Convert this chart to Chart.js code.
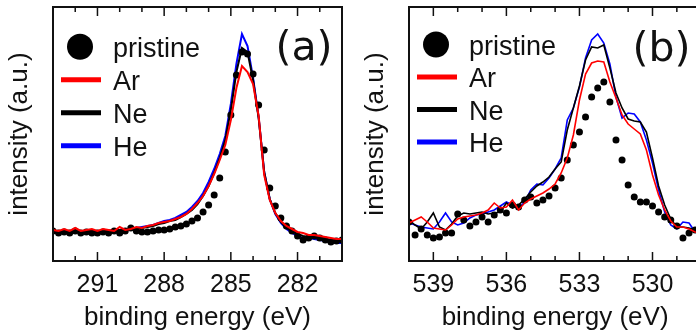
<!DOCTYPE html>
<html>
<head>
<meta charset="utf-8">
<script src="https://cdn.jsdelivr.net/npm/chart.js@4.4.1/dist/chart.umd.min.js"></script>
<style>
    html, body { margin: 0; padding: 0; overflow: hidden; background: #fff; }
    body { width: 696px; height: 334px; position: relative; }
    canvas { position: absolute; top: 0; }
    #panelA { left: 0; }
    #panelB { left: 356px; }
</style>
</head>
<body>
<canvas id="panelA" width="346" height="334"></canvas>
<canvas id="panelB" width="350" height="334"></canvas>
<script>
// panel (a): energi ikat C 1s (eV)
const energiA = [293, 292.75, 292.5, 292.25, 292, 291.75, 291.5, 291.25, 291, 290.75, 290.5, 290.25, 290,
    289.75, 289.5, 289.25, 289, 288.75, 288.5, 288.25, 288, 287.75, 287.5, 287.25, 287,
    286.75, 286.5, 286.25, 286, 285.75, 285.5, 285.25, 285, 284.75, 284.5, 284.25, 284,
    283.75, 283.5, 283.25, 283, 282.75, 282.5, 282.25, 282, 281.75, 281.5, 281.25, 281,
    280.75, 280.5, 280.25, 280];
const pristineA = [30, 28, 29, 28, 30, 28, 29, 28, 28, 29, 28, 30, 28, 30, 33, 30, 29, 29, 30, 31, 31, 32, 34, 35, 37,
    40, 43, 49, 56, 66, 83, 109, 146, 186, 209, 207, 187, 156, 111, 73, 55, 43, 35, 30, 25, 21, 23, 25, 23, 21, 19, 20, 21];
const arA = [31, 30, 32, 30, 33, 30, 31, 32, 30, 32, 31, 30, 34, 31, 32, 34, 33, 35, 36, 38, 39, 40, 42, 44, 47,
    52, 58, 65, 75, 87, 101, 116, 141, 173, 195, 189, 177, 145, 86, 61, 48, 40, 35, 32, 29, 28, 26, 26, 25, 24, 23, 22, 22];
const neA = [29, 29, 30, 29, 30, 29, 30, 30, 29, 30, 30, 31, 31, 31, 32, 32, 33, 34, 35, 37, 38, 40, 41, 44, 47,
    51, 57, 65, 75, 88, 103, 121, 151, 189, 213, 209, 181, 143, 89, 62, 48, 39, 33, 30, 27, 25, 24, 24, 23, 22, 21, 20, 20];
const heA = [28, 28, 29, 28, 29, 29, 29, 30, 29, 30, 30, 31, 31, 32, 32, 33, 34, 35, 36, 38, 40, 41, 43, 46, 49,
    54, 60, 68, 79, 92, 107, 125, 157, 197, 227, 215, 183, 144, 89, 62, 47, 38, 32, 28, 25, 23, 23, 22, 21, 20, 19, 18, 18];
const tickA = [291, 288, 285, 282];
const tickMinorA = [292, 290, 289, 287, 286, 284, 283, 281];

// panel (b): energi ikat O 1s (eV)
const energiB = [540, 539.75, 539.5, 539.25, 539, 538.75, 538.5, 538.25, 538, 537.75, 537.5, 537.25,
    537, 536.75, 536.5, 536.25, 536, 535.75, 535.5, 535.25, 535, 534.75, 534.5, 534.25,
    534, 533.75, 533.5, 533.25, 533, 532.75, 532.5, 532.25, 532, 531.75, 531.5, 531.25,
    531, 530.75, 530.5, 530.25, 530, 529.75, 529.5, 529.25, 529, 528.75, 528.5, 528.25, 528];
const pristineB = [39, 26, 32, 26, 23, 24, 28, 28, 47, 41, 35, 39, 44, 39, 46, 51, 48, 56, 54, 61, 64, 58, 61, 65,
    73, 83, 101, 116, 129, 144, 164, 173, 179, 159, 121, 101, 76, 64, 59, 59, 55, 49, 44, 41, 35, 23, 28, 31, 33];
const arB = [38, 41, 44, 39, 33, 32, 31, 36, 42, 44, 45, 46, 48, 51, 58, 53, 54, 61, 51, 58, 62, 65, 68, 72,
    77, 88, 103, 126, 161, 187, 198, 200, 199, 179, 163, 146, 137, 132, 127, 111, 86, 66, 51, 40, 34, 34, 32, 29, 28];
const neB = [41, 36, 32, 39, 48, 34, 31, 37, 45, 48, 47, 48, 49, 47, 48, 49, 58, 53, 56, 62, 69, 75, 79, 84,
    92, 99, 131, 153, 175, 201, 214, 213, 216, 193, 168, 153, 142, 140, 139, 129, 103, 75, 56, 42, 34, 34, 33, 31, 30];
const heB = [38, 36, 34, 33, 32, 39, 48, 39, 36, 38, 43, 46, 47, 49, 51, 55, 59, 56, 53, 59, 71, 77, 76, 83,
    92, 103, 141, 153, 174, 203, 221, 227, 218, 197, 164, 143, 148, 147, 139, 121, 98, 71, 49, 36, 32, 39, 38, 29, 27];
const tickB = [539, 536, 533, 530];
const tickMinorB = [540, 538, 537, 535, 534, 532, 531, 529, 528];

const warnaTeks = '#111';
const hurufSans = '"Liberation Sans", Arial, sans-serif';

function gabung(energi, nilai) {
    return energi.map((e, i) => ({ x: e, y: nilai[i] }));
}

// bingkai, tick ke dalam, legend dan label panel
const hiasanPanel = {
    id: 'hiasanPanel',
    afterDraw(chart, args, opts) {
        const ctx = chart.ctx;
        const ca = chart.chartArea;
        const sx = chart.scales.x;
        ctx.save();
        ctx.strokeStyle = warnaTeks;
        ctx.lineWidth = 2;
        ctx.strokeRect(ca.left, ca.top, ca.right - ca.left, ca.bottom - ca.top);

        ctx.lineWidth = 1.5;
        const garisTick = (v, panjang) => {
            const px = sx.getPixelForValue(v);
            ctx.beginPath();
            ctx.moveTo(px, ca.bottom);
            ctx.lineTo(px, ca.bottom - panjang);
            ctx.moveTo(px, ca.top);
            ctx.lineTo(px, ca.top + panjang);
            ctx.stroke();
        };
        opts.mayor.forEach(v => garisTick(v, 9));
        opts.minor.forEach(v => garisTick(v, 5));

        // legend
        ctx.font = '27px ' + hurufSans;
        ctx.textAlign = 'left';
        ctx.textBaseline = 'alphabetic';
        chart.data.datasets.forEach((ds, i) => {
            const y = opts.legendY + i * opts.legendJarak;
            if (ds.showLine === false) {
                ctx.fillStyle = ds.backgroundColor;
                ctx.beginPath();
                ctx.arc(ca.left + 27, y, 13, 0, Math.PI * 2);
                ctx.fill();
            } else {
                ctx.strokeStyle = ds.borderColor;
                ctx.lineWidth = 5;
                ctx.beginPath();
                ctx.moveTo(ca.left + 8, y);
                ctx.lineTo(ca.left + 48, y);
                ctx.stroke();
            }
            ctx.fillStyle = warnaTeks;
            ctx.fillText(ds.label, ca.left + 60, y + 10);
        });

        ctx.font = '41px "DejaVu Sans"';
        ctx.textAlign = 'center';
        ctx.fillStyle = warnaTeks;
        ctx.fillText(opts.label, opts.labelX, opts.labelY);
        ctx.restore();
    }
};

function buatPanel(idCanvas, energi, seri, batas, tickMayor, tickMinor, hiasan, tebal, padKanan) {
    const ctx = document.getElementById(idCanvas).getContext('2d');
    return new Chart(ctx, {
        type: 'scatter',
        data: {
            datasets: [
                {
                    label: 'pristine',
                    data: gabung(energi, seri.pristine),
                    showLine: false,
                    pointRadius: 3.5,
                    pointBorderWidth: 0,
                    backgroundColor: '#000',
                    borderColor: '#000',
                    order: 1
                },
                {
                    label: 'Ar',
                    data: gabung(energi, seri.ar),
                    showLine: true,
                    borderColor: '#ff0000',
                    borderWidth: tebal,
                    pointRadius: 0,
                    order: 0
                },
                {
                    label: 'Ne',
                    data: gabung(energi, seri.ne),
                    showLine: true,
                    borderColor: '#000000',
                    borderWidth: tebal,
                    pointRadius: 0,
                    order: 2
                },
                {
                    label: 'He',
                    data: gabung(energi, seri.he),
                    showLine: true,
                    borderColor: '#0000ff',
                    borderWidth: tebal,
                    pointRadius: 0,
                    order: 3
                }
            ]
        },
        options: {
            responsive: false,
            animation: false,
            layout: { padding: { top: 7, right: padKanan, left: 0, bottom: 0 } },
            plugins: {
                legend: { display: false },
                tooltip: { enabled: false },
                hiasanPanel: Object.assign({ mayor: tickMayor, minor: tickMinor }, hiasan)
            },
            scales: {
                x: {
                    type: 'linear',
                    reverse: true,
                    min: batas[0],
                    max: batas[1],
                    afterBuildTicks: s => { s.ticks = tickMayor.map(v => ({ value: v })); },
                    afterFit: s => { s.height = 73; },
                    grid: { display: false, drawTicks: false },
                    border: { display: false },
                    ticks: {
                        color: warnaTeks,
                        font: { family: hurufSans, size: 25 },
                        padding: 9,
                        maxRotation: 0,
                        autoSkip: false
                    },
                    title: {
                        display: true,
                        text: 'binding energy (eV)',
                        color: warnaTeks,
                        font: { family: hurufSans, size: 26 },
                        padding: { top: 0, bottom: 1 }
                    }
                },
                y: {
                    min: 0,
                    max: 254,
                    afterFit: s => { s.width = 53; },
                    grid: { display: false, drawTicks: false },
                    border: { display: false },
                    ticks: { display: false },
                    title: {
                        display: true,
                        text: 'intensity (a.u.)',
                        color: warnaTeks,
                        font: { family: hurufSans, size: 26 },
                        padding: { top: 4, bottom: 0 }
                    }
                }
            }
        },
        plugins: [hiasanPanel]
    });
}

const grafikA = buatPanel('panelA', energiA,
    { pristine: pristineA, ar: arA, ne: neA, he: heA },
    [280, 293], tickA, tickMinorA,
    { legendY: 46.7, legendJarak: 33, label: '(a)', labelX: 304, labelY: 60 },
    2, 1.5);

const grafikB = buatPanel('panelB', energiB,
    { pristine: pristineB, ar: arB, ne: neB, he: heB },
    [528, 540], tickB, tickMinorB,
    { legendY: 44.5, legendJarak: 32.5, label: '(b)', labelX: 305.5, labelY: 61 },
    1.6, 4.8);
</script>
</body>
</html>
